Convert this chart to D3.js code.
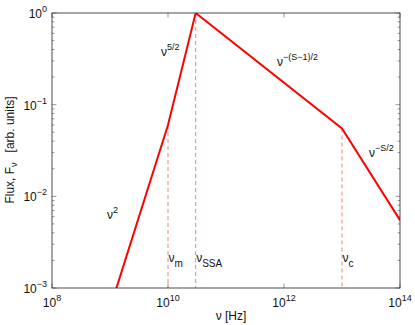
<!DOCTYPE html>
<html>
<head>
<meta charset="utf-8">
<script src="https://cdn.jsdelivr.net/npm/d3@7"></script>
<style>
  body { margin: 0; background: #fff; }
  svg { font-family: "Liberation Sans", Arial, sans-serif; }
</style>
</head>
<body>
<div id="chart"></div>
<script>
// spectrum break points (nu in Hz, flux arb. units)
const nuPoints = [1e9, 1e10, 3e10, 1e13, 1e14];
const fluxPoints = [6e-4, 0.06, 1, 0.055, 0.0055];

// characteristic frequencies (dashed markers)
const markerNu = [1e10, 3e10, 1e13];
const markerFlux = [0.06, 1, 0.055];
const markerNames = ["m", "SSA", "c"];

const xTickValues = [1e8, 1e10, 1e12, 1e14];
const xTickExp = ["8", "10", "12", "14"];
const yTickValues = [1, 1e-1, 1e-2, 1e-3];
const yTickExp = ["0", "\u22121", "\u22122", "\u22123"];

const width = 415, height = 325;
const margin = {left: 52, right: 15, top: 13, bottom: 37};

const svg = d3.select("#chart").append("svg")
    .attr("width", width)
    .attr("height", height);

const x = d3.scaleLog().domain([1e8, 1e14]).range([margin.left, width - margin.right]);
const y = d3.scaleLog().domain([1e-3, 1]).range([height - margin.bottom, margin.top]);

svg.append("defs").append("clipPath").attr("id", "clip")
    .append("rect")
    .attr("x", margin.left).attr("y", margin.top)
    .attr("width", x.range()[1] - margin.left)
    .attr("height", y.range()[0] - margin.top);

// minor ticks on y (both sides)
const yMinor = [];
for (let e = -3; e < 0; e++) {
    for (let m = 2; m <= 9; m++) yMinor.push(m * Math.pow(10, e));
}
const ticks = svg.append("g").attr("stroke", "#555").attr("stroke-width", 0.6);
yMinor.forEach(v => {
    ticks.append("line").attr("x1", x.range()[0]).attr("x2", x.range()[0] + 2.5)
        .attr("y1", y(v)).attr("y2", y(v));
    ticks.append("line").attr("x1", x.range()[1]).attr("x2", x.range()[1] - 2.5)
        .attr("y1", y(v)).attr("y2", y(v));
});
yTickValues.forEach(v => {
    ticks.append("line").attr("x1", x.range()[0]).attr("x2", x.range()[0] + 4.5)
        .attr("y1", y(v)).attr("y2", y(v));
    ticks.append("line").attr("x1", x.range()[1]).attr("x2", x.range()[1] - 4.5)
        .attr("y1", y(v)).attr("y2", y(v));
});
xTickValues.forEach(v => {
    ticks.append("line").attr("x1", x(v)).attr("x2", x(v))
        .attr("y1", y.range()[0]).attr("y2", y.range()[0] - 4.5);
    ticks.append("line").attr("x1", x(v)).attr("x2", x(v))
        .attr("y1", y.range()[1]).attr("y2", y.range()[1] + 4.5);
});

// dashed markers
const plot = svg.append("g").attr("clip-path", "url(#clip)");
markerNu.forEach((v, i) => {
    plot.append("line")
        .attr("x1", x(v)).attr("x2", x(v))
        .attr("y1", y(markerFlux[i])).attr("y2", y.range()[0])
        .attr("stroke", "#f06060")
        .attr("stroke-width", 0.8)
        .attr("stroke-dasharray", "4,3");
});

// spectrum line
const line = d3.line().x((d, i) => x(nuPoints[i])).y(d => y(d));
plot.append("path")
    .datum(fluxPoints)
    .attr("d", line)
    .attr("fill", "none")
    .attr("stroke", "#ff0000")
    .attr("stroke-width", 2);

// box
svg.append("rect")
    .attr("x", margin.left).attr("y", margin.top)
    .attr("width", x.range()[1] - margin.left)
    .attr("height", y.range()[0] - margin.top)
    .attr("fill", "none").attr("stroke", "#222").attr("stroke-width", 0.8);

// tick labels with superscripts
function powText(g, px, py, anchor, exp) {
    const t = g.append("text").attr("x", px).attr("y", py)
        .attr("text-anchor", anchor).attr("font-size", 12).attr("fill", "#111");
    t.append("tspan").text("10");
    t.append("tspan").attr("dy", -6).attr("font-size", 9).text(exp);
}
const labels = svg.append("g");
xTickValues.forEach((v, i) => powText(labels, x(v), 307, "middle", xTickExp[i]));
yTickValues.forEach((v, i) => powText(labels, 47, y(v) + 5, "end", yTickExp[i]));

// slope annotations
function annot(px, py, base, sup, sub) {
    const t = svg.append("text").attr("x", px).attr("y", py)
        .attr("font-size", 12).attr("fill", "#111");
    t.append("tspan").text(base);
    if (sup) t.append("tspan").attr("dy", -6).attr("font-size", 9).text(sup);
    if (sub) t.append("tspan").attr("dy", 5).attr("font-size", 10).text(sub);
}
annot(107, 219, "\u03bd", "2");
annot(161, 56, "\u03bd", "5/2");
annot(277, 66, "\u03bd", "\u2212(S\u22121)/2");
annot(369, 157, "\u03bd", "\u2212S/2");
markerNu.forEach((v, i) => annot(x(v) + 0.5, 262, "\u03bd", null, markerNames[i]));

// axis titles
svg.append("text").attr("x", 231).attr("y", 320).attr("text-anchor", "middle")
    .attr("font-size", 12).attr("fill", "#111").text("\u03bd [Hz]");
const yl = svg.append("text")
    .attr("transform", "translate(14,150) rotate(-90)")
    .attr("text-anchor", "middle").attr("font-size", 12).attr("fill", "#111");
yl.append("tspan").text("Flux, F");
yl.append("tspan").attr("dy", 3).attr("font-size", 9).text("\u03bd");
yl.append("tspan").attr("dy", -3).attr("dx", 10).text("[arb. units]");
</script>
</body>
</html>
